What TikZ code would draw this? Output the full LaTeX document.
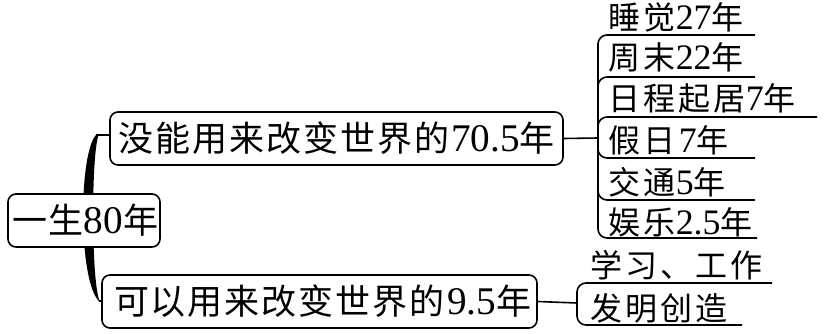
\documentclass[tikz,border=0pt]{standalone}
\usepackage{fontspec}
\setmainfont{Noto Sans CJK SC}
\newfontfamily\dg[Scale=1.12]{Liberation Serif}
\newcommand\gp{\kern3pt}
\newcommand\gpb{\kern2pt}
\begin{document}
\begin{tikzpicture}[x=1pt,y=-1pt,line width=1.6pt,
  box/.style={draw,rounded corners=8pt,minimum height=53pt,inner sep=0pt,font=\fontsize{35}{37}\selectfont},
  item/.style={anchor=west,inner sep=0pt,font=\fontsize{32}{34}\selectfont},
  link/.style={rounded corners=9pt}]
\useasboundingbox (0,0) rectangle (824,334);
% thick brace
\fill (97,134) .. controls (78,150) and (78,285) .. (100,302) .. controls (91,285) and (91,150) .. (99,134) -- cycle;
\node[box,minimum width=453pt] (top) at (336.5,138.5) {没\gpb 能\gpb 用\gpb 来\gpb 改\gpb 变\gpb 世\gpb 界\gpb 的\gpb{\dg 70.5}年};
\node[box,minimum width=435pt] (bot) at (319.5,301.5) {\kern6pt 可\gpb 以\gpb 用\gpb 来\gpb 改\gpb 变\gpb 世\gpb 界\gpb 的\gpb{\dg 9.5}年};
\node[box,minimum width=152pt,fill=white] (root) at (84,220.5) {\kern3pt 一\kern1pt 生{\dg 80}年};
\coordinate (bt) at (96,135);
\coordinate (bb) at (99,301);
\draw (bt) -- (bt -| top.west);
\draw (bb) -- (bb -| bot.west);
% upper branch
\coordinate (hub) at (598,138);
\draw (top.east) -- (hub);
\node[item] (i1) at (608,17) {睡\gp 觉{\dg 27}年};
\node[item] (i2) at (608,57) {周\gp 末{\dg 22}年};
\node[item] (i3) at (608,98) {日\gp 程\gp 起\gp 居{\dg 7}年};
\node[item] (i4) at (608,140) {假\gp 日\gp{\dg 7}年};
\node[item] (i5) at (608,182) {交\gp 通{\dg 5}年};
\node[item] (i6) at (608,222) {娱\gp 乐{\dg 2.5}年};
\coordinate (e1) at (755,35);
\coordinate (e2) at (755,77);
\coordinate (e3) at (817,117);
\coordinate (e4) at (755,158);
\coordinate (e5) at (755,200);
\coordinate (e6) at (757,238);
\foreach \e in {e1,e2,e3,e4,e5,e6} \draw[link] (hub) |- (\e);
% lower branch
\coordinate (hub2) at (577,303);
\draw (bot.east) -- (hub2);
\node[item] (w1) at (590,265) {学\gp 习\gp 、\gp 工\gp 作};
\node[item] (w2) at (590,308) {发\gp 明\gp 创\gp 造};
\coordinate (f1) at (772,283);
\coordinate (f2) at (742,325);
\draw[link] (hub2) |- (f1);
\draw[link] (hub2) |- (f2);
\end{tikzpicture}
\end{document}
